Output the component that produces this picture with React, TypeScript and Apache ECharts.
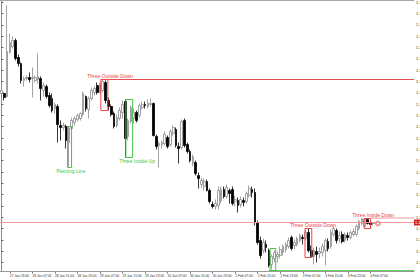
import React, { useEffect, useRef } from "react";
import * as echarts from "echarts";

// OHLC (H1 bars)
const opens = [
  1.1507, 1.1507, 1.1504, 1.1548, 1.1554, 1.156, 1.1543, 1.1537, 1.152, 1.1522,
  1.1523, 1.1522, 1.152, 1.1521, 1.1522, 1.151, 1.1514, 1.1505, 1.1502, 1.1492,
  1.1494, 1.1475, 1.1473, 1.1474, 1.1458, 1.1472, 1.1478, 1.1481, 1.1482, 1.1486,
  1.1504, 1.1491, 1.1502, 1.1508, 1.1515, 1.1508, 1.151, 1.1518, 1.15, 1.1494,
  1.1487, 1.1475, 1.1482, 1.1488, 1.1499, 1.1464, 1.1479, 1.1482, 1.1488, 1.1485,
  1.1493, 1.1496, 1.1494, 1.1496, 1.1497, 1.1464, 1.1455, 1.1456, 1.1457, 1.1463,
  1.1456, 1.1467, 1.1471, 1.1454, 1.1453, 1.148, 1.1456, 1.1449, 1.1437, 1.1438,
  1.1425, 1.1416, 1.1414, 1.1419, 1.141, 1.1396, 1.1394, 1.1395, 1.14, 1.1411,
  1.1404, 1.141, 1.1411, 1.1399, 1.14, 1.1396, 1.14, 1.1399, 1.1405, 1.1411,
  1.1408, 1.1378, 1.136, 1.135, 1.1356, 1.135, 1.1336, 1.1342, 1.1344, 1.1345,
  1.1348, 1.1351, 1.1354, 1.1363, 1.1355, 1.1356, 1.136, 1.1363, 1.1362, 1.1368,
  1.135, 1.1344, 1.1349, 1.1347, 1.1348, 1.135, 1.1359, 1.1354, 1.1366, 1.137,
  1.1362, 1.1366, 1.136, 1.1365, 1.1363, 1.1366, 1.1366, 1.1372, 1.1377, 1.1374,
  1.1381, 1.1378, 1.1377,
];
const closes = [
  1.151, 1.1503, 1.1549, 1.1558, 1.156, 1.1542, 1.1537, 1.152, 1.1522, 1.1523,
  1.1521, 1.1523, 1.1523, 1.1524, 1.1512, 1.1515, 1.1504, 1.1495, 1.149, 1.1496,
  1.1476, 1.1473, 1.1475, 1.146, 1.1472, 1.148, 1.1482, 1.1485, 1.1487, 1.1507,
  1.1492, 1.1502, 1.151, 1.1512, 1.1508, 1.1516, 1.1519, 1.15, 1.1494, 1.1486,
  1.1474, 1.1483, 1.149, 1.1496, 1.1462, 1.148, 1.1493, 1.1488, 1.148, 1.1495,
  1.1496, 1.1495, 1.1497, 1.1497, 1.1465, 1.1454, 1.1457, 1.1458, 1.1466, 1.1454,
  1.1469, 1.1473, 1.1455, 1.1452, 1.1479, 1.1455, 1.1449, 1.144, 1.1444, 1.1427,
  1.1422, 1.142, 1.1419, 1.141, 1.1399, 1.1394, 1.1397, 1.141, 1.1411, 1.1404,
  1.1413, 1.1407, 1.1397, 1.1401, 1.1395, 1.1401, 1.1398, 1.1407, 1.1412, 1.1408,
  1.1378, 1.1358, 1.1345, 1.1358, 1.1353, 1.1335, 1.1344, 1.1348, 1.1346, 1.1351,
  1.1354, 1.1356, 1.136, 1.1352, 1.1358, 1.1362, 1.1365, 1.1362, 1.1368, 1.135,
  1.1344, 1.135, 1.1346, 1.1349, 1.1354, 1.136, 1.1352, 1.1368, 1.1372, 1.136,
  1.1365, 1.1359, 1.1366, 1.1363, 1.1368, 1.1369, 1.1374, 1.1379, 1.1382, 1.1381,
  1.1377, 1.1376, 1.1377,
];
const highs = [
  1.1513, 1.1508, 1.1595, 1.1567, 1.1564, 1.1562, 1.1546, 1.1538, 1.1524, 1.1525,
  1.1528, 1.1533, 1.1525, 1.1547, 1.1524, 1.1518, 1.1516, 1.1508, 1.1507, 1.1498,
  1.1496, 1.148, 1.1478, 1.1476, 1.1474, 1.1483, 1.1484, 1.1487, 1.1488, 1.1509,
  1.1505, 1.1504, 1.1513, 1.1514, 1.1518, 1.1518, 1.1521, 1.152, 1.1503, 1.1496,
  1.1489, 1.1486, 1.1493, 1.15, 1.1501, 1.1482, 1.1495, 1.1492, 1.149, 1.1497,
  1.1499, 1.1499, 1.1501, 1.1502, 1.1498, 1.1466, 1.1459, 1.146, 1.1469, 1.1465,
  1.1471, 1.1475, 1.1473, 1.1458, 1.1481, 1.1482, 1.1458, 1.1451, 1.1446, 1.144,
  1.1428, 1.1423, 1.1422, 1.1421, 1.1412, 1.1399, 1.1401, 1.1414, 1.1414, 1.1414,
  1.1416, 1.1412, 1.1414, 1.1405, 1.1403, 1.1404, 1.1403, 1.1409, 1.1415, 1.1414,
  1.1412, 1.138, 1.1364, 1.1362, 1.136, 1.1352, 1.1346, 1.135, 1.1349, 1.1354,
  1.1356, 1.1358, 1.1363, 1.1365, 1.1361, 1.1364, 1.1367, 1.1366, 1.1371, 1.1372,
  1.1355, 1.1353, 1.1354, 1.1353, 1.1357, 1.1362, 1.1362, 1.1371, 1.1374, 1.1372,
  1.1369, 1.1369, 1.1368, 1.1368, 1.137, 1.1372, 1.1376, 1.1381, 1.1382, 1.1382,
  1.1382, 1.138, 1.1378,
];
const lows = [
  1.1504, 1.15, 1.1503, 1.1547, 1.1552, 1.154, 1.1534, 1.1517, 1.1514, 1.152,
  1.1518, 1.1503, 1.1518, 1.1517, 1.15, 1.1504, 1.1502, 1.1493, 1.1488, 1.1487,
  1.1458, 1.146, 1.147, 1.1452, 1.1434, 1.147, 1.1475, 1.1479, 1.148, 1.1484,
  1.1489, 1.1482, 1.15, 1.1505, 1.1506, 1.1507, 1.1508, 1.1497, 1.149, 1.1484,
  1.1472, 1.1473, 1.148, 1.1482, 1.1443, 1.146, 1.1477, 1.1477, 1.1478, 1.1483,
  1.1491, 1.1492, 1.1492, 1.1494, 1.1464, 1.1451, 1.1433, 1.1452, 1.1455, 1.1452,
  1.1454, 1.1465, 1.1453, 1.1437, 1.1451, 1.1453, 1.1447, 1.1438, 1.1434, 1.1425,
  1.1412, 1.1413, 1.141, 1.1409, 1.1397, 1.1392, 1.1391, 1.1391, 1.1397, 1.1402,
  1.1402, 1.1397, 1.1395, 1.1394, 1.1388, 1.1393, 1.1394, 1.1397, 1.1403, 1.1403,
  1.1375, 1.1356, 1.1342, 1.1347, 1.1348, 1.1333, 1.1331, 1.1338, 1.1338, 1.1342,
  1.1345, 1.1348, 1.1352, 1.135, 1.1351, 1.1354, 1.1358, 1.1356, 1.136, 1.1348,
  1.1343, 1.1336, 1.1338, 1.1342, 1.1344, 1.1335, 1.1349, 1.1352, 1.1364, 1.1357,
  1.1358, 1.1357, 1.1358, 1.136, 1.1361, 1.1364, 1.1364, 1.137, 1.1375, 1.1373,
  1.1376, 1.1373, 1.1375,
];

// time axis: 147 bar slots, labels every 8 bars
const barSlots = 147;
const timeLabels = [
  "27 Jan 23:00", "28 Jan 07:00", "28 Jan 15:00", "28 Jan 23:00", "29 Jan 07:00",
  "29 Jan 15:00", "29 Jan 23:00", "30 Jan 07:00", "30 Jan 15:00", "30 Jan 23:00",
  "2 Feb 07:00", "2 Feb 15:00", "2 Feb 23:00", "3 Feb 07:00", "3 Feb 15:00",
  "3 Feb 23:00", "4 Feb 07:00",
];
const labelBars = [3, 11, 19, 27, 35, 43, 51, 59, 67, 75, 83, 91, 99, 107, 115, 123, 131];

// price scale ticks (MT4 style)
const priceMin = 1.1329;
const priceMax = 1.16;
const priceTicks = [
  1.15983, 1.1587, 1.15757, 1.15643, 1.1553, 1.15417, 1.15304, 1.15191, 1.15077,
  1.14964, 1.14851, 1.14738, 1.14625, 1.14511, 1.14398, 1.14285, 1.14172, 1.14059,
  1.13945, 1.13832, 1.13719, 1.13606, 1.13493, 1.13379,
];

// candlestick patterns (bar index range, price range)
const patternNames = ["Piercing Line", "Three Outside Down", "Three Inside Up", "", "Three Outside Down", "Three Inside Down"];
const patternStart = [23.5, 35.3, 44.2, 95.4, 107.8, 128.8];
const patternEnd = [24.9, 37.8, 46.6, 97.4, 110.2, 131.1];
const patternHigh = [1.1474, 1.1521, 1.1501, 1.1352, 1.1372, 1.1382];
const patternLow = [1.1433, 1.149, 1.1443, 1.133, 1.1343, 1.1372];
const patternLabelBar = [24.7, 38.6, 48.2, 96.4, 110.7, 132.0];
const patternBullish = [true, false, true, true, false, false];

// horizontal levels
const levelPrices = [1.1521, 1.1378, 1.13825, 1.133];
const levelStart = [37.8, -0.5, 131.1, 95.0];
const levelEnd = [146.5, 146.5, 146.5, 146.5];
const levelColors = ["#e65050", "#f29a9a", "#f29a9a", "#5fd35f"];

const markerBar = [133.7];
const markerPrice = [1.1377];

const RED = "#ee4444";
const GREEN = "#44c444";

export default function App() {
  const ref = useRef<HTMLDivElement>(null);
  useEffect(() => {
    const chart = echarts.init(ref.current!, null, { renderer: "svg" });
    const categories = Array.from({ length: barSlots }, (_, i) => {
      const k = labelBars.indexOf(i);
      return k >= 0 ? timeLabels[k] : "b" + i;
    });
    const candles = opens.map((o, i) => [o, closes[i], lows[i], highs[i]]);
    const showLabel = (idx: number) => labelBars.indexOf(idx) >= 0;

    const levelSeries = levelPrices.map((p, i) => ({
      type: "line",
      xAxisIndex: 1,
      yAxisIndex: 0,
      data: [
        [levelStart[i], p],
        [levelEnd[i], p],
      ],
      symbol: "none",
      silent: true,
      clip: false,
      lineStyle: { color: levelColors[i], width: 1 },
      z: 3,
      endLabel:
        i === 1
          ? {
              show: true,
              formatter: () => p.toFixed(5),
              backgroundColor: "#d42020",
              color: "#fff",
              fontSize: 4,
              padding: [1, 1],
              distance: 0,
              fontFamily: "Liberation Sans",
            }
          : { show: false },
    }));

    const option: any = {
      animation: false,
      backgroundColor: "#ffffff",
      grid: { left: 0, top: 0.5, width: 414, height: 271, containLabel: false, outerBoundsMode: "none" },
      xAxis: [
        {
          type: "category",
          data: categories,
          boundaryGap: true,
          position: "bottom",
          axisLine: { show: true, lineStyle: { color: "#9a9a9a", width: 1 } },
          axisTick: { show: true, alignWithLabel: true, interval: (i: number) => showLabel(i), length: 2, lineStyle: { color: "#777" } },
          axisLabel: {
            interval: (i: number) => showLabel(i),
            fontSize: 3.3,
            color: "#333",
            align: "left",
            margin: 3,
            fontFamily: "Liberation Sans",
          },
          splitLine: { show: false },
        },
        {
          type: "value",
          min: -0.5,
          max: barSlots - 0.5,
          position: "top",
          axisLine: { show: true, lineStyle: { color: "#a8a8a8", width: 1 } },
          axisTick: { show: false },
          axisLabel: { show: false },
          splitLine: { show: false },
        },
      ],
      yAxis: [
        {
          type: "value",
          min: priceMin,
          max: priceMax,
          position: "right",
          scale: true,
          axisLine: { show: true, lineStyle: { color: "#8a8a8a", width: 1 } },
          axisTick: { show: true, customValues: priceTicks, length: 2, lineStyle: { color: "#666" } },
          axisLabel: {
            customValues: priceTicks,
            formatter: (v: number) => v.toFixed(5),
            fontSize: 4,
            color: "#333",
            margin: 2,
            fontFamily: "Liberation Sans",
          },
          splitLine: { show: false },
        },
      ],
      series: [
        {
          type: "candlestick",
          xAxisIndex: 0,
          yAxisIndex: 0,
          data: candles,
          barWidth: 2.2,
          itemStyle: {
            color: "#ffffff",
            color0: "#000000",
            borderColor: "#8c8c8c",
            borderColor0: "#000000",
            borderWidth: 0.8,
          },
          z: 2,
        },
        ...levelSeries,
        {
          type: "custom",
          xAxisIndex: 1,
          yAxisIndex: 0,
          clip: false,
          silent: true,
          z: 4,
          data: patternStart.map((s, i) => [s, patternEnd[i], patternHigh[i], patternLow[i], patternLabelBar[i], i]),
          encode: { x: [0, 1, 4], y: [2, 3] },
          renderItem: (params: any, api: any) => {
            const i = api.value(5);
            const p0 = api.coord([api.value(0), api.value(2)]);
            const p1 = api.coord([api.value(1), api.value(3)]);
            const bull = patternBullish[i];
            const col = bull ? GREEN : RED;
            const children: any[] = [
              {
                type: "rect",
                shape: { x: p0[0], y: p0[1], width: p1[0] - p0[0], height: p1[1] - p0[1] },
                style: { fill: "none", stroke: col, lineWidth: 1 },
              },
            ];
            if (patternNames[i]) {
              const t = api.coord([api.value(4), bull ? api.value(3) : api.value(2)]);
              children.push({
                type: "text",
                x: t[0],
                y: bull ? t[1] + 1 : t[1] - 1,
                style: {
                  text: patternNames[i],
                  fill: col,
                  fontSize: 5,
                  fontFamily: "Liberation Sans",
                  align: "center",
                  verticalAlign: bull ? "top" : "bottom",
                },
              });
            }
            return { type: "group", children };
          },
        },
        {
          type: "scatter",
          xAxisIndex: 1,
          yAxisIndex: 0,
          data: markerBar.map((b, i) => [b, markerPrice[i]]),
          symbol: "emptyCircle",
          symbolSize: 4,
          itemStyle: { color: "#f08080", borderColor: "#f08080", borderWidth: 1 },
          silent: true,
          z: 5,
        },
      ],
    };
    chart.setOption(option);
    return () => chart.dispose();
  }, []);
  return (
    <div
      ref={ref}
      style={{ position: "absolute", left: 0, top: 0, width: 420, height: 280, background: "#fff" }}
    />
  );
}
